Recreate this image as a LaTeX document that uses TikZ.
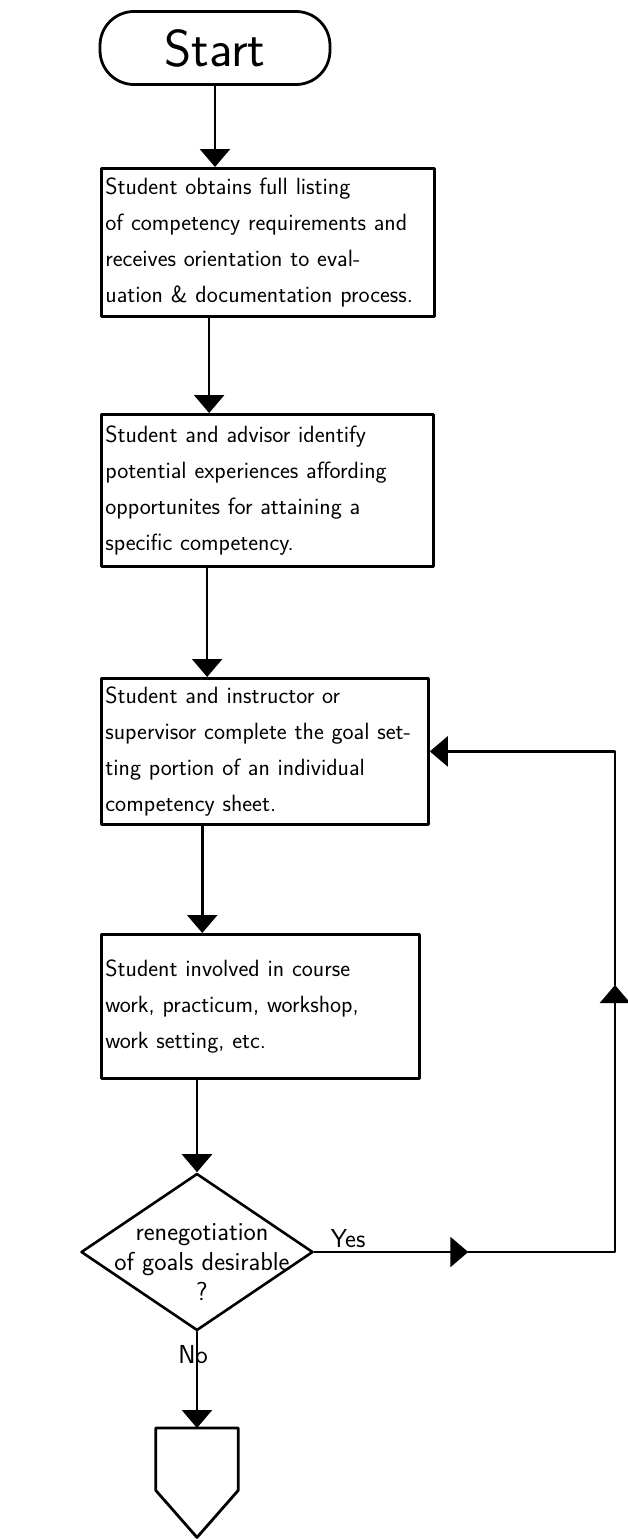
\documentclass[tikz,border=0pt]{standalone}
\usetikzlibrary{arrows.meta,calc,shapes.geometric}
\begin{document}
\begin{tikzpicture}[x=1pt,y=-1pt,>={Triangle[width=30pt,length=18pt]},line join=round,line cap=round,
	box/.style={draw,line width=2.8pt,anchor=north west,align=left,inner sep=4pt,font=\sffamily\fontsize{23.5}{36}\selectfont},
	link/.style={->,line width=2.6pt},
	lbl/.style={font=\sffamily\fontsize{26}{26}\selectfont}]
	\useasboundingbox (0,0) rectangle (628,1539);
	\node[draw,line width=2.8pt,rounded corners=34pt,minimum width=230,minimum height=73,font=\sffamily\fontsize{52}{52}\selectfont] (start) at (215,48) {Start};
	\node[box,text width=325,minimum height=148] (b1) at (100,167) {Student obtains full listing\\of competency requirements and\\receives orientation to eval-\\uation \& documentation process.};
	\node[box,text width=324,minimum height=152] (b2) at (100,413) {Student and advisor identify\\potential experiences affording\\opportunites for attaining a\\specific competency.};
	\node[box,text width=319,minimum height=146] (b3) at (100,677) {Student and instructor or\\supervisor complete the goal set-\\ting portion of an individual\\competency sheet.};
	\node[box,text width=310,minimum height=144] (b4) at (100,933) {Student involved in course\\work, practicum, workshop,\\work setting, etc.};
	\node[draw,diamond,line width=2.6pt,minimum width=232,minimum height=157,inner sep=0pt] (dec) at (197,1252) {};
	\node[align=center,font=\sffamily\fontsize{26}{30}\selectfont] (dect) at (202,1262) {renegotiation\\of goals desirable\\?};
	\node[minimum width=82,minimum height=62,inner sep=0pt,anchor=north] (stop) at (197,1428) {};
	\draw[line width=2.8pt] (stop.north west) -- (stop.south west) -- ($(stop.south)+(0,47)$) -- (stop.south east) -- (stop.north east) -- cycle; % off-page connector
	% main flow
	\draw[link] (start) -- (start |- b1.north);
	\draw[link] ($(b1.south west)!0.325!(b1.south east)$) coordinate (p1) -- (p1 |- b2.north);
	\draw[link] ($(b2.south west)!0.32!(b2.south east)$) coordinate (p2) -- (p2 |- b3.north);
	\draw[link] ($(b3.south west)!0.31!(b3.south east)$) coordinate (p3) -- (p3 |- b4.north);
	\draw[link] (dec.north |- b4.south) -- (dec.north);
	\draw[link] (dec.south) -- node[lbl,pos=0.24,xshift=-4pt] {No} (stop.north);
	% loop back to goal setting
	\coordinate (yesarr) at ($(dec.east)+(154,0)$);
	\coordinate (loopbr) at (615,1252);
	\coordinate (uparr) at (615,985);
	\draw[link] (dec.east) -- node[lbl,above,pos=0.22] {Yes} (yesarr);
	\draw[link] (yesarr) -- (loopbr) -- (uparr);
	\draw[link] (uparr) -- (uparr |- b3.east) -- (b3.east);
\end{tikzpicture}
\end{document}
